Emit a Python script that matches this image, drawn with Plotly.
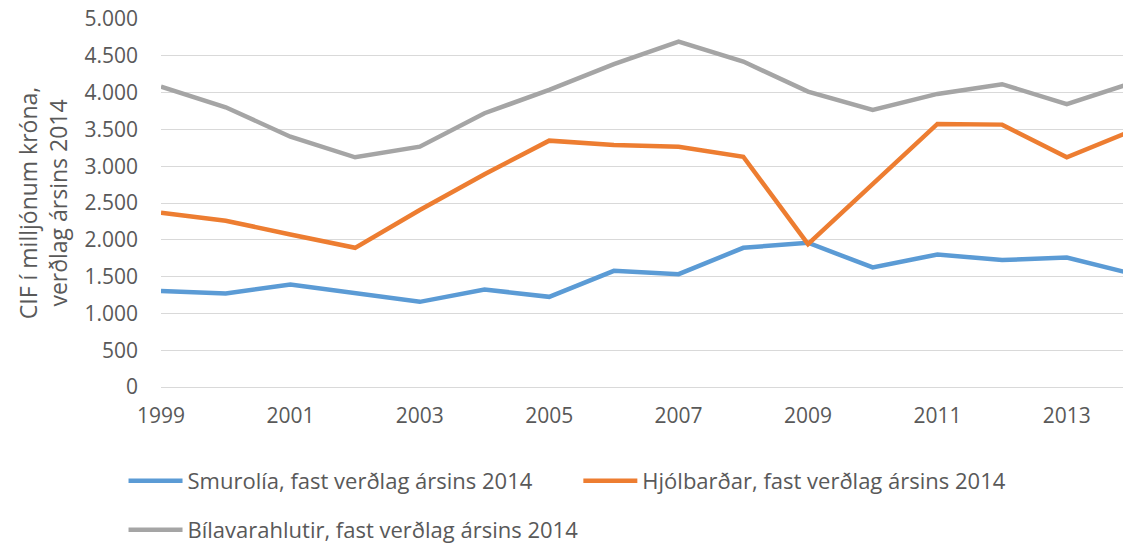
import plotly.graph_objects as go

years = list(range(1999, 2015))
smurolia = [1306, 1270, 1393, 1270, 1157, 1325, 1225, 1578, 1533, 1891, 1960, 1624, 1801, 1724, 1760, 1540]
hjolbardar = [2368, 2259, 2073, 1891, 2404, 2890, 3347, 3288, 3265, 3129, 1941, 2767, 3574, 3565, 3120, 3480]
bilavarahlutir = [4082, 3801, 3401, 3121, 3265, 3720, 4037, 4386, 4694, 4422, 4014, 3765, 3982, 4114, 3842, 4130]

names = ["Smurolía, fast verðlag ársins 2014",
         "Hjólbarðar, fast verðlag ársins 2014",
         "Bílavarahlutir, fast verðlag ársins 2014"]
colors = ["#5b9bd5", "#ed7d31", "#a5a5a5"]
series = [smurolia, hjolbardar, bilavarahlutir]
legends = ["legend", "legend2", "legend3"]

FONT = "Open Sans"
TXT = "#595959"

fig = go.Figure()
for n, c, s, lg in zip(names, colors, series, legends):
    fig.add_trace(go.Scatter(x=years, y=s, name=n, mode="lines",
                             line=dict(color=c, width=4.5), legend=lg))

legend_common = dict(orientation="h", xanchor="left", yanchor="middle",
                     xref="container", yref="container",
                     font=dict(family=FONT, size=22, color=TXT),
                     bgcolor="rgba(0,0,0,0)", itemwidth=54)

fig.update_layout(
    width=1123, height=545,
    margin=dict(l=161, r=0, t=19, b=158, autoexpand=False),
    paper_bgcolor="white", plot_bgcolor="white",
    separators=",.",
    font=dict(family=FONT, size=21, color=TXT),
    showlegend=True,
    legend=dict(x=0.110, y=1 - 481 / 545, **legend_common),
    legend2=dict(x=0.515, y=1 - 481 / 545, **legend_common),
    legend3=dict(x=0.110, y=1 - 530 / 545, **legend_common),
    xaxis=dict(range=[1999, 1999 + (1123 - 161) / 64.7], tickmode="linear", tick0=1999, dtick=2,
               showgrid=False, zeroline=False, showline=True, linecolor="#d9d9d9", linewidth=1,
               ticks="", ticklabelstandoff=10, automargin=False,
               tickfont=dict(family=FONT, size=21, color=TXT)),
    yaxis=dict(range=[0, 5000], dtick=500, tickformat=",d",
               showgrid=True, gridcolor="#d9d9d9", gridwidth=1, zeroline=False,
               ticks="", ticklabelstandoff=22, automargin=False,
               tickfont=dict(family=FONT, size=21, color=TXT),
               title=dict(text="CIF í milljónum króna,<br>verðlag ársins 2014",
                          font=dict(family=FONT, size=23, color=TXT), standoff=10)),
)

fig.write_html("out.html", config={"displayModeBar": False},
               post_script="document.body.style.margin='0px';")
